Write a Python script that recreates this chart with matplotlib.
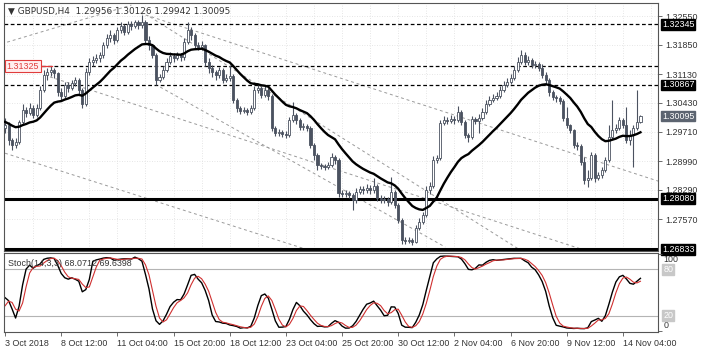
import numpy as np
import pandas as pd
import matplotlib
matplotlib.use('Agg')
import matplotlib.pyplot as plt
import matplotlib.transforms as mtransforms

# bars before the visible window, only used to warm up the MA and the stochastic
pre_closes = [1.3049, 1.3044, 1.3054, 1.3040, 1.3035, 1.3042, 1.3030, 1.3020, 1.3025, 1.3013,
              1.3005, 1.2988, 1.2976, 1.2964, 1.2951, 1.2939, 1.2956, 1.2971, 1.2981]
pre_highs = [1.3062, 1.3057, 1.3064, 1.3057, 1.3049, 1.3052, 1.3044, 1.3035, 1.3037, 1.3030,
             1.3020, 1.3010, 1.2993, 1.2981, 1.2971, 1.2959, 1.2968, 1.2983, 1.3000]
pre_lows = [1.3040, 1.3035, 1.3042, 1.3030, 1.3025, 1.3030, 1.3020, 1.3010, 1.3013, 1.3003,
            1.2995, 1.2981, 1.2966, 1.2951, 1.2937, 1.2927, 1.2932, 1.2951, 1.2966]

# GBPUSD H4, 3 Oct 20:00 .. 15 Nov 00:00 (open = previous close)
closes = [
    1.2988, 1.2951, 1.2939, 1.2946, 1.2995, 1.3025, 1.3017, 1.3030, 1.3013, 1.3030,
    1.3074, 1.3111, 1.3118, 1.3123, 1.3115, 1.3069, 1.3059, 1.3086, 1.3079, 1.3091,
    1.3098, 1.3074, 1.3040, 1.3118, 1.3142, 1.3147, 1.3152, 1.3160, 1.3184, 1.3201,
    1.3209, 1.3196, 1.3221, 1.3231, 1.3216, 1.3236, 1.3231, 1.3240, 1.3233, 1.3240,
    1.3196, 1.3184, 1.3160, 1.3098, 1.3106, 1.3123, 1.3142, 1.3157, 1.3152, 1.3160,
    1.3155, 1.3191, 1.3221, 1.3209, 1.3184, 1.3179, 1.3184, 1.3142, 1.3128, 1.3118,
    1.3111, 1.3123, 1.3098, 1.3103, 1.3108, 1.3049, 1.3030, 1.3022, 1.3025, 1.3020,
    1.3030, 1.3074, 1.3079, 1.3062, 1.3074, 1.3059, 1.2981, 1.2968, 1.2971, 1.2966,
    1.2964, 1.3000, 1.3013, 1.3000, 1.2983, 1.2986, 1.2981, 1.2939, 1.2915, 1.2890,
    1.2888, 1.2885, 1.2890, 1.2910, 1.2902, 1.2821, 1.2819, 1.2821, 1.2817, 1.2804,
    1.2824, 1.2831, 1.2829, 1.2834, 1.2829, 1.2839, 1.2809, 1.2804, 1.2807, 1.2799,
    1.2824, 1.2792, 1.2755, 1.2706, 1.2704, 1.2706, 1.2701, 1.2736, 1.2750, 1.2768,
    1.2829, 1.2839, 1.2902, 1.2907, 1.2993, 1.3000, 1.2998, 1.3003, 1.3000, 1.3020,
    1.2995, 1.2964, 1.2959, 1.3003, 1.2998, 1.3005, 1.3020, 1.3040, 1.3049, 1.3054,
    1.3059, 1.3074, 1.3086, 1.3093, 1.3103, 1.3123, 1.3142, 1.3160, 1.3142, 1.3147,
    1.3135, 1.3138, 1.3128, 1.3111, 1.3098, 1.3069, 1.3057, 1.3054, 1.3047, 1.3005,
    1.2988, 1.2976, 1.2939, 1.2937, 1.2897, 1.2853, 1.2858, 1.2915, 1.2858, 1.2866,
    1.2878, 1.2902, 1.2959, 1.2976, 1.2981, 1.3000, 1.2988, 1.2951, 1.2964, 1.2981,
    1.29956, 1.30095]
highs = [
    1.3005, 1.2995, 1.2956, 1.2956, 1.3000, 1.3040, 1.3032, 1.3042, 1.3037, 1.3040,
    1.3084, 1.3123, 1.3128, 1.3133, 1.3128, 1.3118, 1.3079, 1.3093, 1.3093, 1.3098,
    1.3106, 1.3103, 1.3079, 1.3128, 1.3152, 1.3157, 1.3162, 1.3167, 1.3191, 1.3211,
    1.3221, 1.3213, 1.3228, 1.3240, 1.3236, 1.3243, 1.3243, 1.3245, 1.3245, 1.3258,
    1.3245, 1.3206, 1.3187, 1.3164, 1.3113, 1.3133, 1.3152, 1.3167, 1.3164, 1.3167,
    1.3164, 1.3201, 1.3240, 1.3228, 1.3213, 1.3191, 1.3194, 1.3187, 1.3152, 1.3135,
    1.3123, 1.3130, 1.3128, 1.3113, 1.3135, 1.3113, 1.3054, 1.3035, 1.3032, 1.3030,
    1.3037, 1.3084, 1.3086, 1.3084, 1.3086, 1.3079, 1.3064, 1.2986, 1.2978, 1.2976,
    1.2973, 1.3008, 1.3044, 1.3017, 1.3005, 1.2993, 1.2991, 1.2986, 1.2944, 1.2919,
    1.2895, 1.2893, 1.2897, 1.2919, 1.2915, 1.2907, 1.2829, 1.2829, 1.2826, 1.2821,
    1.2834, 1.2839, 1.2839, 1.2844, 1.2841, 1.2858, 1.2844, 1.2817, 1.2814, 1.2812,
    1.2861, 1.2829, 1.2797, 1.2760, 1.2714, 1.2714, 1.2711, 1.2743, 1.2760, 1.2775,
    1.2839, 1.2848, 1.2912, 1.2915, 1.3000, 1.3010, 1.3008, 1.3013, 1.3010, 1.3035,
    1.3025, 1.3000, 1.2968, 1.3010, 1.3008, 1.3015, 1.3030, 1.3049, 1.3059, 1.3064,
    1.3069, 1.3084, 1.3096, 1.3103, 1.3113, 1.3133, 1.3155, 1.3172, 1.3167, 1.3157,
    1.3152, 1.3145, 1.3142, 1.3138, 1.3118, 1.3103, 1.3074, 1.3062, 1.3059, 1.3052,
    1.3032, 1.2991, 1.2978, 1.2946, 1.2942, 1.2910, 1.2878, 1.2922, 1.2919, 1.2873,
    1.2885, 1.2910, 1.2988, 1.3049, 1.2991, 1.3008, 1.3005, 1.3032, 1.2976, 1.2988,
    1.3074, 1.30126]
lows = [
    1.2968, 1.2939, 1.2927, 1.2932, 1.2942, 1.2991, 1.3008, 1.3013, 1.3005, 1.3008,
    1.3025, 1.3069, 1.3098, 1.3108, 1.3103, 1.3059, 1.3049, 1.3054, 1.3069, 1.3074,
    1.3084, 1.3064, 1.3030, 1.3035, 1.3111, 1.3133, 1.3140, 1.3142, 1.3152, 1.3177,
    1.3191, 1.3187, 1.3191, 1.3213, 1.3209, 1.3211, 1.3221, 1.3226, 1.3223, 1.3226,
    1.3187, 1.3172, 1.3152, 1.3086, 1.3093, 1.3101, 1.3118, 1.3138, 1.3142, 1.3147,
    1.3145, 1.3147, 1.3187, 1.3196, 1.3177, 1.3172, 1.3172, 1.3133, 1.3115, 1.3106,
    1.3098, 1.3103, 1.3091, 1.3093, 1.3096, 1.3042, 1.3020, 1.3015, 1.3017, 1.3013,
    1.3015, 1.3025, 1.3066, 1.3054, 1.3057, 1.3049, 1.2973, 1.2961, 1.2961, 1.2959,
    1.2956, 1.2959, 1.2995, 1.2991, 1.2976, 1.2976, 1.2973, 1.2932, 1.2902, 1.2878,
    1.2880, 1.2878, 1.2880, 1.2885, 1.2893, 1.2812, 1.2812, 1.2812, 1.2809, 1.2780,
    1.2797, 1.2819, 1.2819, 1.2821, 1.2819, 1.2821, 1.2802, 1.2797, 1.2797, 1.2790,
    1.2795, 1.2785, 1.2748, 1.2697, 1.2697, 1.2699, 1.2694, 1.2699, 1.2731, 1.2746,
    1.2763, 1.2819, 1.2834, 1.2895, 1.2902, 1.2988, 1.2991, 1.2993, 1.2991, 1.2995,
    1.2988, 1.2956, 1.2946, 1.2954, 1.2991, 1.2968, 1.3000, 1.3015, 1.3035, 1.3044,
    1.3049, 1.3054, 1.3069, 1.3081, 1.3089, 1.3098, 1.3118, 1.3138, 1.3135, 1.3135,
    1.3128, 1.3128, 1.3120, 1.3103, 1.3089, 1.3059, 1.3049, 1.3044, 1.3040, 1.2998,
    1.2981, 1.2968, 1.2932, 1.2927, 1.2890, 1.2844, 1.2836, 1.2853, 1.2848, 1.2853,
    1.2858, 1.2873, 1.2897, 1.2954, 1.2968, 1.2976, 1.2981, 1.2944, 1.2939, 1.2885,
    1.2976, 1.29942]

price_ticks = [1.32550, 1.31850, 1.31130, 1.30430, 1.29710, 1.28990, 1.28290, 1.27570]
dashed_levels = [1.32345, 1.31325, 1.30867]
solid_levels = [1.28080, 1.26833]
price_tags = [(1.32345, 'black'), (1.30867, 'black'), (1.30095, '#5c6470'),
              (1.28080, 'black'), (1.26833, 'black')]
time_bars = [0, 16, 32, 48, 64, 80, 96, 112, 128, 144, 160, 176]
time_labels = ['3 Oct 2018', '8 Oct 12:00', '11 Oct 04:00', '15 Oct 20:00', '18 Oct 12:00',
               '23 Oct 04:00', '25 Oct 20:00', '30 Oct 12:00', '2 Nov 04:00', '6 Nov 20:00',
               '9 Nov 12:00', '14 Nov 04:00']
# trend lines drawn on the chart: (bar, price, bar, price)
trend_lines = [(-1, 1.3187, 36, 1.3282),
               (38.5, 1.3262, 187, 1.2848),
               (0, 1.2919, 90, 1.2672),
               (12.8, 1.3106, 166.7, 1.2677),
               (41.3, 1.3253, 146.7, 1.2682),
               (44.2, 1.3081, 125.4, 1.2689)]

c_all = np.array(pre_closes + closes)
h_all = np.array(pre_highs + highs)
l_all = np.array(pre_lows + lows)
o_all = np.concatenate([[c_all[0]], c_all[:-1]])
h_all = np.maximum(h_all, np.maximum(o_all, c_all))
l_all = np.minimum(l_all, np.minimum(o_all, c_all))
x_all = np.arange(len(c_all)) - len(pre_closes)

df = pd.DataFrame({'o': o_all, 'h': h_all, 'l': l_all, 'c': c_all}, index=x_all)
ma = df['c'].ewm(span=20, adjust=False).mean()
hh = df['h'].rolling(14).max()
ll = df['l'].rolling(14).min()
k_main = 100 * (df['c'] - ll).rolling(3).sum() / (hh - ll).rolling(3).sum()
k_sig = k_main.rolling(3).mean()

plt.rcParams['font.family'] = ['Liberation Sans', 'DejaVu Sans']
fig = plt.figure(figsize=(7.1, 3.49), dpi=100)
ax = fig.add_axes([4 / 710, 1 - 251 / 349, 654 / 710, 248 / 349])
ax2 = fig.add_axes([4 / 710, 1 - 332 / 349, 654 / 710, 79 / 349])

FS = 6.4
TXT = '#333333'
CANDLE = '#4b5260'

# grid
for b in range(8, 186, 8):
    ax.axvline(b, color='#dedede', lw=0.6, ls=(0, (1, 2)), zorder=0)
for p in price_ticks:
    ax.axhline(p, color='#dedede', lw=0.6, ls=(0, (1, 2)), zorder=0)

# trend lines
for b1, p1, b2, p2 in trend_lines:
    ax.plot([b1, b2], [p1, p2], color='#9a9a9a', lw=0.7, ls=(0, (3, 3)), zorder=1)

# levels
for p in dashed_levels:
    ax.axhline(p, color='black', lw=0.9, ls=(0, (3, 2)), zorder=2)
for p in solid_levels:
    ax.axhline(p, color='black', lw=2.2, zorder=2)

# candles
up = df['c'] >= df['o']
ax.vlines(df.index, df['l'], df['h'], color=CANDLE, lw=0.8, zorder=3)
body_lo = np.minimum(df['o'], df['c'])
body_h = np.maximum(np.abs(df['c'] - df['o']), 0.00008)
ax.bar(df.index[up], body_h[up], bottom=body_lo[up], width=0.6,
       color='white', edgecolor=CANDLE, lw=0.6, zorder=4)
ax.bar(df.index[~up], body_h[~up], bottom=body_lo[~up], width=0.6,
       color=CANDLE, edgecolor=CANDLE, lw=0.6, zorder=4)

ax.plot(df.index, ma, color='black', lw=1.7, zorder=5)

ax.set_xlim(-0.3, 186)
ax.set_ylim(1.26794, 1.32870)

ax.yaxis.tick_right()
ax.set_yticks(price_ticks)
ax.set_yticklabels(['%.5f' % p for p in price_ticks])
ax.tick_params(axis='y', length=3, width=0.6, labelsize=FS, colors='#555555',
               labelcolor=TXT, pad=2)
ax.set_xticks([])
for s in ax.spines.values():
    s.set_color('#555555')
    s.set_linewidth(0.8)

trans = mtransforms.blended_transform_factory(ax.transAxes, ax.transData)
for p, col in price_tags:
    ax.text(1.006, p, '%.5f' % p, transform=trans, fontsize=FS, color='white',
            va='center', ha='left', zorder=10,
            bbox=dict(boxstyle='square,pad=0.07', fc=col, ec=col))

# red left label on the 1.31325 level
ax.plot([2.5, 13.5], [1.31325, 1.31325], color='#e03c3c', lw=0.9, zorder=6)
ax.text(0.004, 1.31325, '1.31325', transform=trans, fontsize=FS, color='#e03c3c',
        va='center', ha='left', zorder=10,
        bbox=dict(boxstyle='square,pad=0.2', fc='#fff0f0', ec='#e03c3c', lw=0.8))

ax.text(0.006, 0.985, '\u25bc GBPUSD,H4  1.29956 1.30126 1.29942 1.30095',
        transform=ax.transAxes, fontsize=FS, color=TXT, va='top', ha='left',
        family=['DejaVu Sans'])

# stochastic
vis = df.index >= 0
ax2.axhline(80, color='#b4b4b4', lw=0.8)
ax2.axhline(20, color='#b4b4b4', lw=0.8)
ax2.plot(df.index[vis], k_main[vis], color='black', lw=1.0)
ax2.plot(df.index[vis], k_sig[vis], color='#d03030', lw=0.8)
ax2.set_xlim(-0.3, 186)
ax2.set_ylim(-1, 101)
ax2.yaxis.tick_right()
ax2.set_yticks([0, 100])
ax2.set_yticklabels([])
ax2.tick_params(axis='y', length=3, width=0.6, colors='#555555')
trans2 = mtransforms.blended_transform_factory(ax2.transAxes, ax2.transData)
ax2.text(1.008, 99, '100', transform=trans2, fontsize=FS, color=TXT, va='top', ha='left')
ax2.text(1.008, 1, '0', transform=trans2, fontsize=FS, color=TXT, va='bottom', ha='left')
for v in (80, 20):
    ax2.text(1.008, v, str(v), transform=trans2, fontsize=FS, color='white',
             va='center', ha='left',
             bbox=dict(boxstyle='square,pad=0.1', fc='#c8c8c8', ec='#c8c8c8'))
ax2.set_xticks(time_bars)
ax2.set_xticklabels(time_labels)
for lab in ax2.get_xticklabels():
    lab.set_ha('left')
ax2.tick_params(axis='x', length=3, width=0.6, labelsize=FS, colors='#555555',
                labelcolor=TXT, pad=2)
for s in ax2.spines.values():
    s.set_color('#555555')
    s.set_linewidth(0.8)
ax2.text(0.006, 0.93, 'Stoch(14,3,3) 68.0712 69.6398', transform=ax2.transAxes,
         fontsize=FS, color=TXT, va='top', ha='left')

fig.savefig('out.png', dpi=100)
